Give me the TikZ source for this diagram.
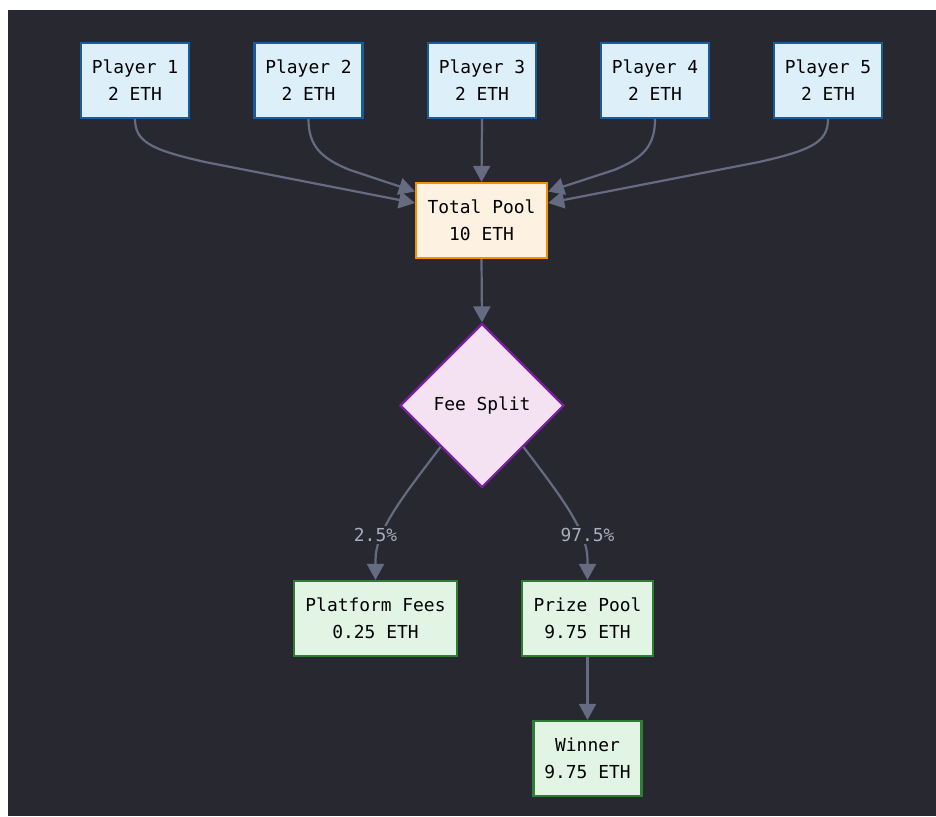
\documentclass[tikz,border=0pt]{standalone}
\usepackage{fontspec}
\setmonofont{DejaVu Sans Mono}
\usetikzlibrary{shapes.geometric,arrows.meta}
\definecolor{bg}{HTML}{282831}
\definecolor{edgec}{HTML}{656B81}
\definecolor{lblc}{HTML}{A9ADC0}
\definecolor{pfill}{HTML}{DDF0FA}
\definecolor{pdraw}{HTML}{1A5B9C}
\definecolor{tfill}{HTML}{FDF1E1}
\definecolor{tdraw}{HTML}{F39200}
\definecolor{dfill}{HTML}{F4E1F2}
\definecolor{ddraw}{HTML}{7B1FA2}
\definecolor{gfill}{HTML}{E2F5E5}
\definecolor{gdraw}{HTML}{2E7D32}
\begin{document}
\begin{tikzpicture}[x=1pt,y=-1pt,
  txt/.style={font=\ttfamily\fontsize{17.9}{27}\selectfont},
  box/.style={txt, rectangle, line width=2.2pt, minimum height=75pt, inner sep=0pt, align=center, text=black},
  player/.style={box, fill=pfill, draw=pdraw, minimum width=108pt},
  poolbox/.style={box, fill=tfill, draw=tdraw, minimum width=131pt},
  greenbox/.style={box, fill=gfill, draw=gdraw},
  splitbox/.style={txt, diamond, aspect=1, fill=dfill, draw=ddraw, line width=2.2pt, minimum width=164pt, minimum height=164pt, inner sep=0pt, text=black},
  flow/.style={draw=edgec, line width=2.2pt, -{Triangle[length=16pt,width=17pt]}},
  pct/.style={txt, text=lblc, fill=bg, inner sep=2pt}
]
\useasboundingbox (0,0) rectangle (936,816);
\fill[white] (0,0) rectangle (936,816);
\fill[bg] (8,10) rectangle (936,816);

\node[player] (p1) at (135,80.5) {Player 1\\2 ETH};
\node[player] (p2) at (308.5,80.5) {Player 2\\2 ETH};
\node[player] (p3) at (482,80.5) {Player 3\\2 ETH};
\node[player] (p4) at (655,80.5) {Player 4\\2 ETH};
\node[player] (p5) at (828,80.5) {Player 5\\2 ETH};
\node[poolbox] (tp) at (481.5,220.5) {Total Pool\\10 ETH};
\node[splitbox] (fs) at (482,405.5) {Fee Split};
\node[greenbox, minimum width=163pt] (pf) at (375.5,618.5) {Platform Fees\\0.25 ETH};
\node[greenbox, minimum width=131pt] (pp) at (587.5,618.5) {Prize Pool\\9.75 ETH};
\node[greenbox, minimum width=108pt] (wn) at (587.5,758.5) {Winner\\9.75 ETH};

\draw[flow] (p1.south) .. controls (135,142) and (152,150) .. (205,162) -- ([yshift=17.5pt]tp.west);
\draw[flow] (p2.south) .. controls (308.5,145) and (320,158) .. (350,170) -- ([yshift=29pt]tp.west);
\draw[flow] (p3.south) -- (tp.north);
\draw[flow] (p4.south) .. controls (655,145) and (644,158) .. (614,170) -- ([yshift=29pt]tp.east);
\draw[flow] (p5.south) .. controls (828,142) and (812,150) .. (759,162) -- ([yshift=17.5pt]tp.east);
\draw[flow] (tp.south) -- (fs.north);
\draw[flow] (fs.south west) .. controls (405,494) and (375.5,530) .. (375.5,560) -- (pf.north);
\draw[flow] (fs.south east) .. controls (559,494) and (587.5,530) .. (587.5,560) -- (pp.north);
\draw[flow] (pp.south) -- (wn.north);

\node[pct] (l1) at (375.5,535) {2.5\%};
\node[pct] (l2) at (587.5,535) {97.5\%};
\end{tikzpicture}
\end{document}
